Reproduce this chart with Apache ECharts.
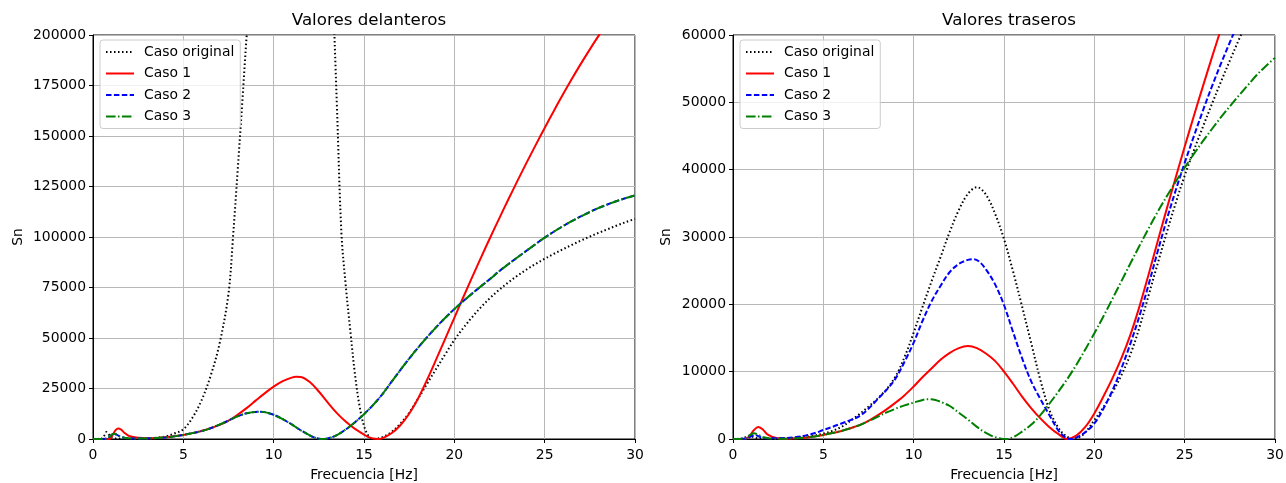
<!DOCTYPE html>
<html>
<head>
<meta charset="utf-8">
<script src="https://cdn.jsdelivr.net/npm/echarts@6/dist/echarts.min.js"></script>
<style>
  html, body { margin: 0; padding: 0; background: #fff; }
  #chart { width: 1286px; height: 483px; }
</style>
</head>
<body>
<div id="chart"></div>
<script>
// Frequency / Sn curves, front (delanteros) and rear (traseros)
const seriesNames = ['Caso original', 'Caso 1', 'Caso 2', 'Caso 3'];
const xTicks = [0, 5, 10, 15, 20, 25, 30];
const frontTicks = [0, 25000, 50000, 75000, 100000, 125000, 150000, 175000, 200000];
const rearTicks = [0, 10000, 20000, 30000, 40000, 50000, 60000];

// Front: Caso original
const frontOrigF = [0, 0.25, 0.5, 0.65, 0.75, 0.85, 1.0, 1.25, 1.5, 2, 2.5, 3, 3.5, 4, 4.5, 5, 5.5, 6, 6.5, 7, 7.5, 7.75, 8, 8.25, 8.5, 9, 10, 11, 12, 12.5, 13, 13.25, 13.5, 13.75, 14, 14.25, 14.5, 14.75, 15, 15.25, 15.5, 15.75, 16, 16.5, 17, 17.5, 18, 18.5, 19, 19.5, 20, 20.5, 21, 21.5, 22, 22.5, 23, 23.5, 24, 24.5, 25, 25.5, 26, 26.5, 27, 27.5, 28, 28.5, 29, 29.5, 30];
const frontOrigV = [0, 50, 300, 2000, 3500, 2600, 900, 250, 100, 100, 150, 300, 600, 1300, 2700, 4800, 10500, 19000, 31000, 47000, 72000, 100000, 132000, 165000, 199000, 260000, 370000, 420000, 380000, 330000, 265000, 225000, 165000, 102000, 75000, 53000, 32000, 16500, 6500, 1500, 0, 200, 800, 3300, 7500, 13000, 20000, 27500, 34800, 42000, 49000, 55000, 60500, 65500, 70000, 74000, 77600, 80900, 83900, 86700, 89200, 91600, 93900, 96100, 98200, 100200, 102100, 103900, 105700, 107400, 109000];

// Front: Caso 1
const frontC1F = [0, 0.9, 1.0, 1.1, 1.25, 1.4, 1.55, 1.75, 2, 2.5, 3, 3.5, 4, 4.5, 5, 5.5, 6, 6.5, 7, 7.5, 8, 8.5, 9, 9.5, 10, 10.5, 11, 11.25, 11.5, 12, 12.5, 13, 13.5, 14, 14.5, 15, 15.25, 15.5, 15.75, 16, 16.5, 17, 17.5, 18, 18.5, 19, 19.5, 20, 20.5, 21, 21.5, 22, 22.5, 23, 23.5, 24, 24.5, 25, 25.5, 26, 26.5, 27, 27.5, 28, 28.5, 29, 29.5, 30];
const frontC1V = [0, 0, 800, 2200, 4400, 5200, 4700, 3000, 1500, 600, 400, 500, 850, 1350, 2000, 2900, 4000, 5300, 7000, 9100, 12000, 15300, 19000, 22600, 25900, 28600, 30400, 30800, 30700, 28200, 23500, 18000, 12800, 8500, 5000, 2200, 900, 200, 0, 300, 2700, 6700, 12500, 20200, 29500, 39500, 49700, 60000, 70300, 80400, 90300, 100000, 109500, 118800, 127900, 136800, 145500, 154000, 162300, 170400, 178200, 185700, 192900, 199800, 206400, 212700, 218700, 224400];

// Front: Caso 2 and Caso 3 share the same curve
const frontC23F = [0, 0.75, 0.9, 1.05, 1.15, 1.3, 1.5, 1.8, 2.2, 2.8, 3.5, 4, 4.5, 5, 5.5, 6, 6.5, 7, 7.5, 8, 8.5, 9, 9.25, 9.5, 10, 10.5, 11, 11.5, 12, 12.3, 12.65, 13, 13.5, 14, 14.5, 15, 15.5, 16, 16.5, 17, 17.5, 18, 18.5, 19, 19.5, 20, 20.5, 21, 21.5, 22, 22.5, 23, 23.5, 24, 24.5, 25, 25.5, 26, 26.5, 27, 27.5, 28, 28.5, 29, 29.5, 30];
const frontC23V = [0, 100, 1000, 2200, 2600, 2200, 1200, 500, 250, 250, 450, 800, 1300, 2000, 2900, 3900, 5300, 7100, 9100, 11200, 12700, 13400, 13500, 13300, 12000, 9800, 7200, 4300, 1800, 600, 0, 300, 1900, 4800, 8300, 12300, 16800, 22000, 28000, 34000, 39800, 45300, 50500, 55400, 60000, 64300, 68300, 72100, 75800, 79400, 83200, 86600, 89950, 93250, 96500, 99700, 102600, 105300, 107850, 110200, 112400, 114400, 116200, 117850, 119300, 120600];

// Rear: Caso original
const rearOrigF = [0, 0.6, 0.8, 1.0, 1.3, 1.7, 2.5, 3, 3.5, 4, 4.5, 5, 5.5, 6, 6.5, 7, 7.5, 8, 8.5, 9, 9.5, 10, 10.5, 11, 11.5, 12, 12.5, 13, 13.5, 14, 14.5, 15, 15.5, 16, 16.5, 17, 17.5, 18, 18.4, 18.85, 19.3, 19.6, 20, 20.5, 21, 21.5, 22, 22.5, 23, 23.5, 24, 24.5, 25, 25.5, 26, 26.5, 27, 27.5, 28, 28.5, 29, 29.5, 30];
const rearOrigV = [0, 100, 500, 400, 150, 50, 50, 100, 200, 300, 500, 800, 1200, 1800, 2700, 3700, 4800, 6000, 7400, 9300, 12200, 15800, 19700, 23500, 27100, 30800, 34000, 36400, 37400, 36300, 33500, 29700, 24900, 19700, 14300, 8900, 4400, 1700, 500, 0, 500, 1300, 2800, 4700, 6900, 9500, 12600, 16600, 21300, 26000, 30600, 35000, 39100, 42800, 46300, 49700, 53000, 56200, 59300, 62300, 65200, 68000, 70800];

// Rear: Caso 1
const rearC1F = [0, 0.65, 0.9, 1.15, 1.4, 1.65, 1.9, 2.4, 3, 3.5, 4, 4.5, 5, 5.5, 6, 6.5, 7, 7.5, 8, 8.5, 9, 9.5, 10, 10.5, 11, 11.5, 12, 12.5, 13, 13.5, 14, 14.5, 15, 15.5, 16, 16.5, 17, 17.5, 18, 18.5, 19, 19.5, 20, 20.5, 21, 21.5, 22, 22.5, 23, 23.5, 24, 24.5, 25, 25.5, 26, 26.5, 27, 27.5, 28, 28.5, 29, 29.5, 30];
const rearC1V = [0, 0, 400, 1300, 1800, 1400, 700, 150, 50, 100, 200, 380, 600, 880, 1200, 1600, 2050, 2700, 3500, 4400, 5400, 6500, 7800, 9200, 10500, 11800, 12800, 13500, 13800, 13500, 12700, 11600, 10000, 8200, 6300, 4600, 3100, 1800, 750, 0, 500, 1800, 3800, 6300, 9000, 12000, 15500, 19700, 24400, 29300, 34100, 38800, 43400, 47900, 52300, 56600, 60800, 64900, 68900, 72800, 76600, 80300, 83900];

// Rear: Caso 2
const rearC2F = [0, 0.8, 1.0, 1.2, 1.5, 2, 3, 3.5, 4, 4.5, 5, 5.5, 6, 6.5, 7, 7.5, 8, 8.5, 9, 9.5, 10, 10.5, 11, 11.5, 12, 12.5, 13, 13.3, 13.6, 14, 14.5, 15, 15.5, 16, 16.5, 17, 17.5, 18, 18.3, 18.65, 19, 19.5, 20, 20.5, 21, 21.5, 22, 22.5, 23, 23.5, 24, 24.5, 25, 25.5, 26, 26.5, 27, 27.5, 28, 28.5, 29, 29.5, 30];
const rearC2V = [0, 100, 400, 600, 300, 100, 150, 300, 500, 850, 1340, 1800, 2300, 2800, 3400, 4500, 5900, 7300, 9000, 11500, 14300, 17600, 20500, 22800, 24800, 26000, 26600, 26700, 26400, 25200, 23000, 19900, 15900, 12000, 8600, 6000, 3600, 1300, 450, 0, 200, 1000, 2300, 4500, 7200, 10500, 14200, 18300, 22900, 27800, 32500, 36900, 41000, 44900, 48700, 52300, 55700, 58900, 62000, 65000, 67900, 70800, 73600];

// Rear: Caso 3
const rearC3F = [0, 0.7, 0.95, 1.16, 1.4, 1.7, 2.2, 3, 3.5, 4, 4.5, 5, 5.5, 6, 6.5, 7, 7.5, 8, 8.5, 9, 9.5, 10, 10.5, 10.8, 11.2, 11.6, 12, 12.5, 13, 13.5, 14, 14.5, 15.15, 15.5, 16, 16.5, 17, 17.5, 18, 18.5, 19, 19.5, 20, 20.5, 21, 21.5, 22, 22.5, 23, 23.5, 24, 24.5, 25, 25.5, 26, 26.5, 27, 27.5, 28, 28.5, 29, 29.5, 30];
const rearC3V = [0, 100, 600, 850, 600, 250, 50, 50, 100, 200, 380, 600, 880, 1200, 1600, 2050, 2650, 3300, 3950, 4500, 5000, 5400, 5800, 5900, 5800, 5400, 4900, 3900, 2900, 1800, 900, 280, 0, 250, 1100, 2100, 3500, 5200, 7000, 8900, 11000, 13300, 15700, 18200, 20800, 23450, 26100, 28700, 31250, 33700, 36000, 38200, 40300, 42300, 44200, 46000, 47750, 49400, 51000, 52550, 54100, 55400, 56600];

const FONT = 'DejaVu Sans';
const FS = 13.9;
const zip = (f, v) => f.map((x, i) => [x, v[i]]);

const styles = [
  { color: '#000000', type: [1.5, 2.5], width: 2 },
  { color: '#ff0000', type: 'solid', width: 2 },
  { color: '#0000ff', type: [5.5, 2.4], width: 2 },
  { color: '#008000', type: [9.6, 2.4, 1.5, 2.4], width: 2 }
];

function lineSeries(idx, k, data) {
  const s = styles[k];
  return {
    name: seriesNames[k],
    type: 'line',
    xAxisIndex: idx,
    yAxisIndex: idx,
    data: data,
    symbol: 'none',
    smooth: 0.35,
    clip: true,
    color: s.color,
    lineStyle: { color: s.color, width: s.width, type: s.type, cap: 'butt' },
    emphasis: { disabled: true },
    z: 2 + k
  };
}

function xAxis(gridIndex) {
  return {
    type: 'value', gridIndex, min: 0, max: 30, interval: 5,
    name: 'Frecuencia [Hz]', nameLocation: 'middle', nameGap: 29,
    nameTextStyle: { fontFamily: FONT, fontSize: FS, color: '#000' },
    axisLine: { show: true, onZero: false, lineStyle: { color: '#000', width: 1 } },
    axisTick: { show: true, length: 4, lineStyle: { color: '#000' } },
    axisLabel: { fontFamily: FONT, fontSize: FS, color: '#000', margin: 9,
      formatter: v => xTicks.includes(v) ? String(v) : '' },
    splitLine: { show: true, lineStyle: { color: '#b8b8b8', width: 1 } }
  };
}

function yAxis(gridIndex, ticks, gap) {
  return {
    type: 'value', gridIndex, min: 0, max: ticks[ticks.length - 1], interval: ticks[1] - ticks[0],
    name: 'Sn', nameLocation: 'middle', nameGap: gap,
    nameTextStyle: { fontFamily: FONT, fontSize: FS, color: '#000' },
    axisLine: { show: true, onZero: false, lineStyle: { color: '#000', width: 1 } },
    axisTick: { show: true, length: 4, lineStyle: { color: '#000' } },
    axisLabel: { fontFamily: FONT, fontSize: FS, color: '#000', margin: 7,
      formatter: v => ticks.includes(v) ? String(v) : '' },
    splitLine: { show: true, lineStyle: { color: '#b8b8b8', width: 1 } }
  };
}

function legend(left) {
  return {
    data: seriesNames, orient: 'vertical', left: left, top: 40,
    itemWidth: 28, itemHeight: 12, itemGap: 7.5,
    padding: [5, 6, 5, 5],
    itemStyle: { opacity: 0 },
    backgroundColor: 'rgba(255,255,255,0.8)', borderColor: '#cccccc', borderWidth: 1, borderRadius: 3,
    textStyle: { fontFamily: FONT, fontSize: FS, color: '#000', padding: [0, 0, 0, 5] },
    selectedMode: false
  };
}

const chart = echarts.init(document.getElementById('chart'), null, { renderer: 'canvas' });
chart.setOption({
  animation: false,
  backgroundColor: '#fff',
  title: [
    { text: 'Valores delanteros', left: 364, top: 7, textAlign: 'center',
      textStyle: { fontFamily: FONT, fontSize: 16.7, fontWeight: 'normal', color: '#000' } },
    { text: 'Valores traseros', left: 1004, top: 7, textAlign: 'center',
      textStyle: { fontFamily: FONT, fontSize: 16.7, fontWeight: 'normal', color: '#000' } }
  ],
  legend: [legend(100), legend(740)],
  grid: [
    { left: 93, right: 651, top: 35, bottom: 44, outerBoundsMode: 'none', show: true, borderColor: '#000', borderWidth: 1, backgroundColor: 'transparent' },
    { left: 733, right: 11, top: 35, bottom: 44, outerBoundsMode: 'none', show: true, borderColor: '#000', borderWidth: 1, backgroundColor: 'transparent' }
  ],
  xAxis: [xAxis(0), xAxis(1)],
  yAxis: [yAxis(0, frontTicks, 68), yAxis(1, rearTicks, 60)],
  series: [
    lineSeries(0, 0, zip(frontOrigF, frontOrigV)),
    lineSeries(0, 1, zip(frontC1F, frontC1V)),
    lineSeries(0, 2, zip(frontC23F, frontC23V)),
    lineSeries(0, 3, zip(frontC23F, frontC23V)),
    lineSeries(1, 0, zip(rearOrigF, rearOrigV)),
    lineSeries(1, 1, zip(rearC1F, rearC1V)),
    lineSeries(1, 2, zip(rearC2F, rearC2V)),
    lineSeries(1, 3, zip(rearC3F, rearC3V))
  ]
});
</script>
</body>
</html>
